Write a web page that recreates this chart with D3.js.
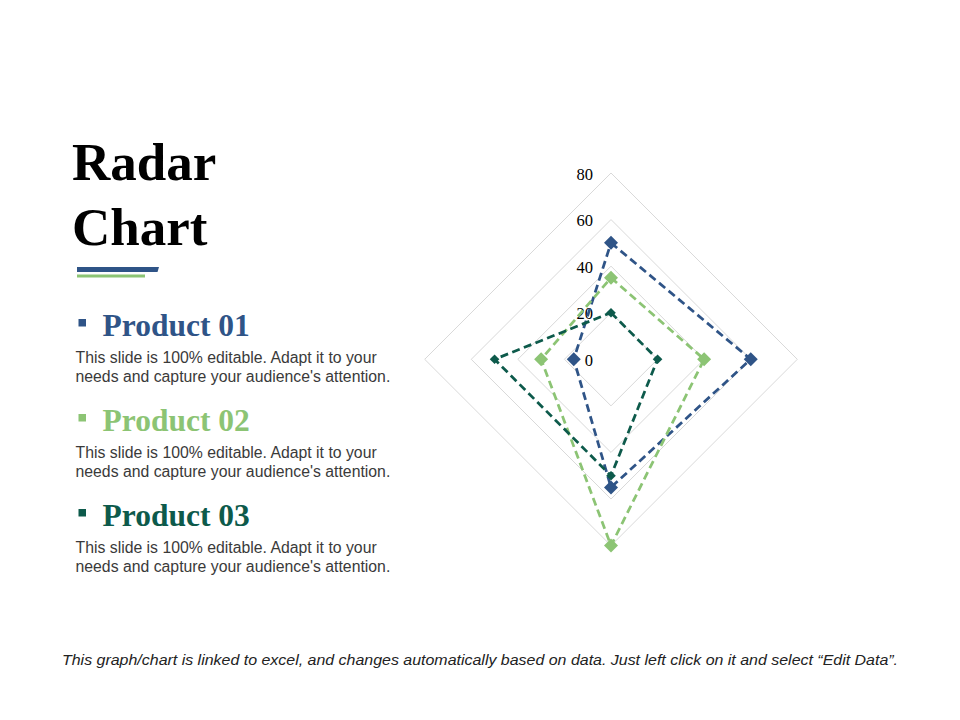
<!DOCTYPE html>
<html>
<head>
<meta charset="utf-8">
<script src="https://cdn.jsdelivr.net/npm/d3@7"></script>
<style>
  body { margin: 0; background: #fff; }
  svg { display: block; }
</style>
</head>
<body>
<div id="chart"></div>
<script>
const width = 960, height = 720;

// data
const categories = ["Category 1", "Category 2", "Category 3", "Category 4"];
const seriesNames = ["Product 01", "Product 02", "Product 03"];
const product01 = [50, 60, 55, 16];
const product02 = [35, 40, 80, 30];
const product03 = [20, 20, 50, 50];
const ticks = [0, 20, 40, 60, 80];
const colors = ["#2f5487", "#8cc474", "#0d5a4b"];
const blurb = ["This slide is 100% editable. Adapt it to your",
               "needs and capture your audience's attention."];

const svg = d3.select("#chart").append("svg")
    .attr("width", width)
    .attr("height", height);

// ---- left side text ----
const serif = "'Liberation Serif', 'Times New Roman', serif";
const sans = "'Liberation Sans', Arial, sans-serif";

svg.append("text").attr("x", 72).attr("y", 180)
    .attr("font-family", serif).attr("font-weight", "bold")
    .attr("font-size", 53).attr("fill", "#000").text("Radar");
svg.append("text").attr("x", 72).attr("y", 245)
    .attr("font-family", serif).attr("font-weight", "bold")
    .attr("font-size", 53).attr("fill", "#000").text("Chart");

svg.append("path")
    .attr("d", "M77,267 L159,267 L157.5,272 L77,272 Z")
    .attr("fill", colors[0]);
svg.append("rect").attr("x", 77).attr("y", 274.5)
    .attr("width", 68).attr("height", 3).attr("fill", colors[1]);

const items = svg.append("g").selectAll("g")
    .data(seriesNames)
    .enter().append("g")
    .attr("transform", (d, i) => "translate(0," + (i * 95) + ")");

items.append("rect")
    .attr("x", 78.5).attr("y", 319)
    .attr("width", 7.5).attr("height", 7.5)
    .attr("fill", (d, i) => colors[i]);
items.append("text")
    .attr("x", 102.5).attr("y", 335.5)
    .attr("font-family", serif).attr("font-weight", "bold")
    .attr("font-size", 31.5)
    .attr("fill", (d, i) => colors[i])
    .text(d => d);
items.each(function() {
    const g = d3.select(this);
    blurb.forEach((line, j) => {
        g.append("text")
            .attr("x", 75.5).attr("y", 363 + j * 19)
            .attr("font-family", sans).attr("font-size", 15.8)
            .attr("fill", "#3a3a3a")
            .text(line);
    });
});

// ---- radar ----
const cx = 611, cy = 359.3;
const r = d3.scaleLinear().domain([0, 80]).range([0, 186.3]);
const angle = d3.scaleBand().domain(categories).range([0, 2 * Math.PI]).align(0).paddingInner(0).paddingOuter(0);

const radar = svg.append("g").attr("transform", "translate(" + cx + "," + cy + ")");

const radial = d3.lineRadial()
    .angle(d => d.a)
    .radius(d => r(d.v))
    .curve(d3.curveLinearClosed);

// grid rings
radar.append("g").selectAll("path")
    .data(ticks.slice(1))
    .enter().append("path")
    .attr("d", t => radial(categories.map(c => ({ a: angle(c), v: t }))))
    .attr("fill", "none")
    .attr("stroke", "#d9d9d9")
    .attr("stroke-width", 1);

// tick labels along the top axis
radar.append("g").selectAll("text")
    .data(ticks)
    .enter().append("text")
    .attr("x", -18)
    .attr("y", t => -r(t) + 6.5)
    .attr("text-anchor", "end")
    .attr("font-family", "'Liberation Serif', serif")
    .attr("font-size", 16.5)
    .attr("fill", "#000")
    .text(t => t);

const series = [product01, product02, product03].map((vals, i) => ({
    name: seriesNames[i],
    color: colors[i],
    size: i === 2 ? 4.8 : 7,
    pts: vals.map((v, k) => ({ a: angle(categories[k]), v: v }))
}));

const sg = radar.append("g").selectAll("g")
    .data(series)
    .enter().append("g");

sg.append("path")
    .attr("d", d => radial(d.pts))
    .attr("fill", "none")
    .attr("stroke", d => d.color)
    .attr("stroke-width", 2.75)
    .attr("stroke-dasharray", "8,4.5");

sg.each(function(s) {
    d3.select(this).selectAll("path.mk")
        .data(s.pts)
        .enter().append("path")
        .attr("class", "mk")
        .attr("transform", p => {
            const rr = r(p.v);
            return "translate(" + (Math.sin(p.a) * rr) + "," + (-Math.cos(p.a) * rr) + ")";
        })
        .attr("d", "M0," + (-s.size) + "L" + s.size + ",0L0," + s.size + "L" + (-s.size) + ",0Z")
        .attr("fill", s.color);
});

// ---- footer ----
svg.append("text")
    .attr("x", 62).attr("y", 665)
    .attr("font-family", "'Liberation Sans', Arial, sans-serif")
    .attr("font-style", "italic")
    .attr("font-size", 15)
    .attr("fill", "#222")
    .attr("textLength", 836)
    .attr("lengthAdjust", "spacingAndGlyphs")
    .text("This graph/chart is linked to excel, and changes automatically based on data. Just left click on it and select \u201cEdit Data\u201d.");
</script>
</body>
</html>
